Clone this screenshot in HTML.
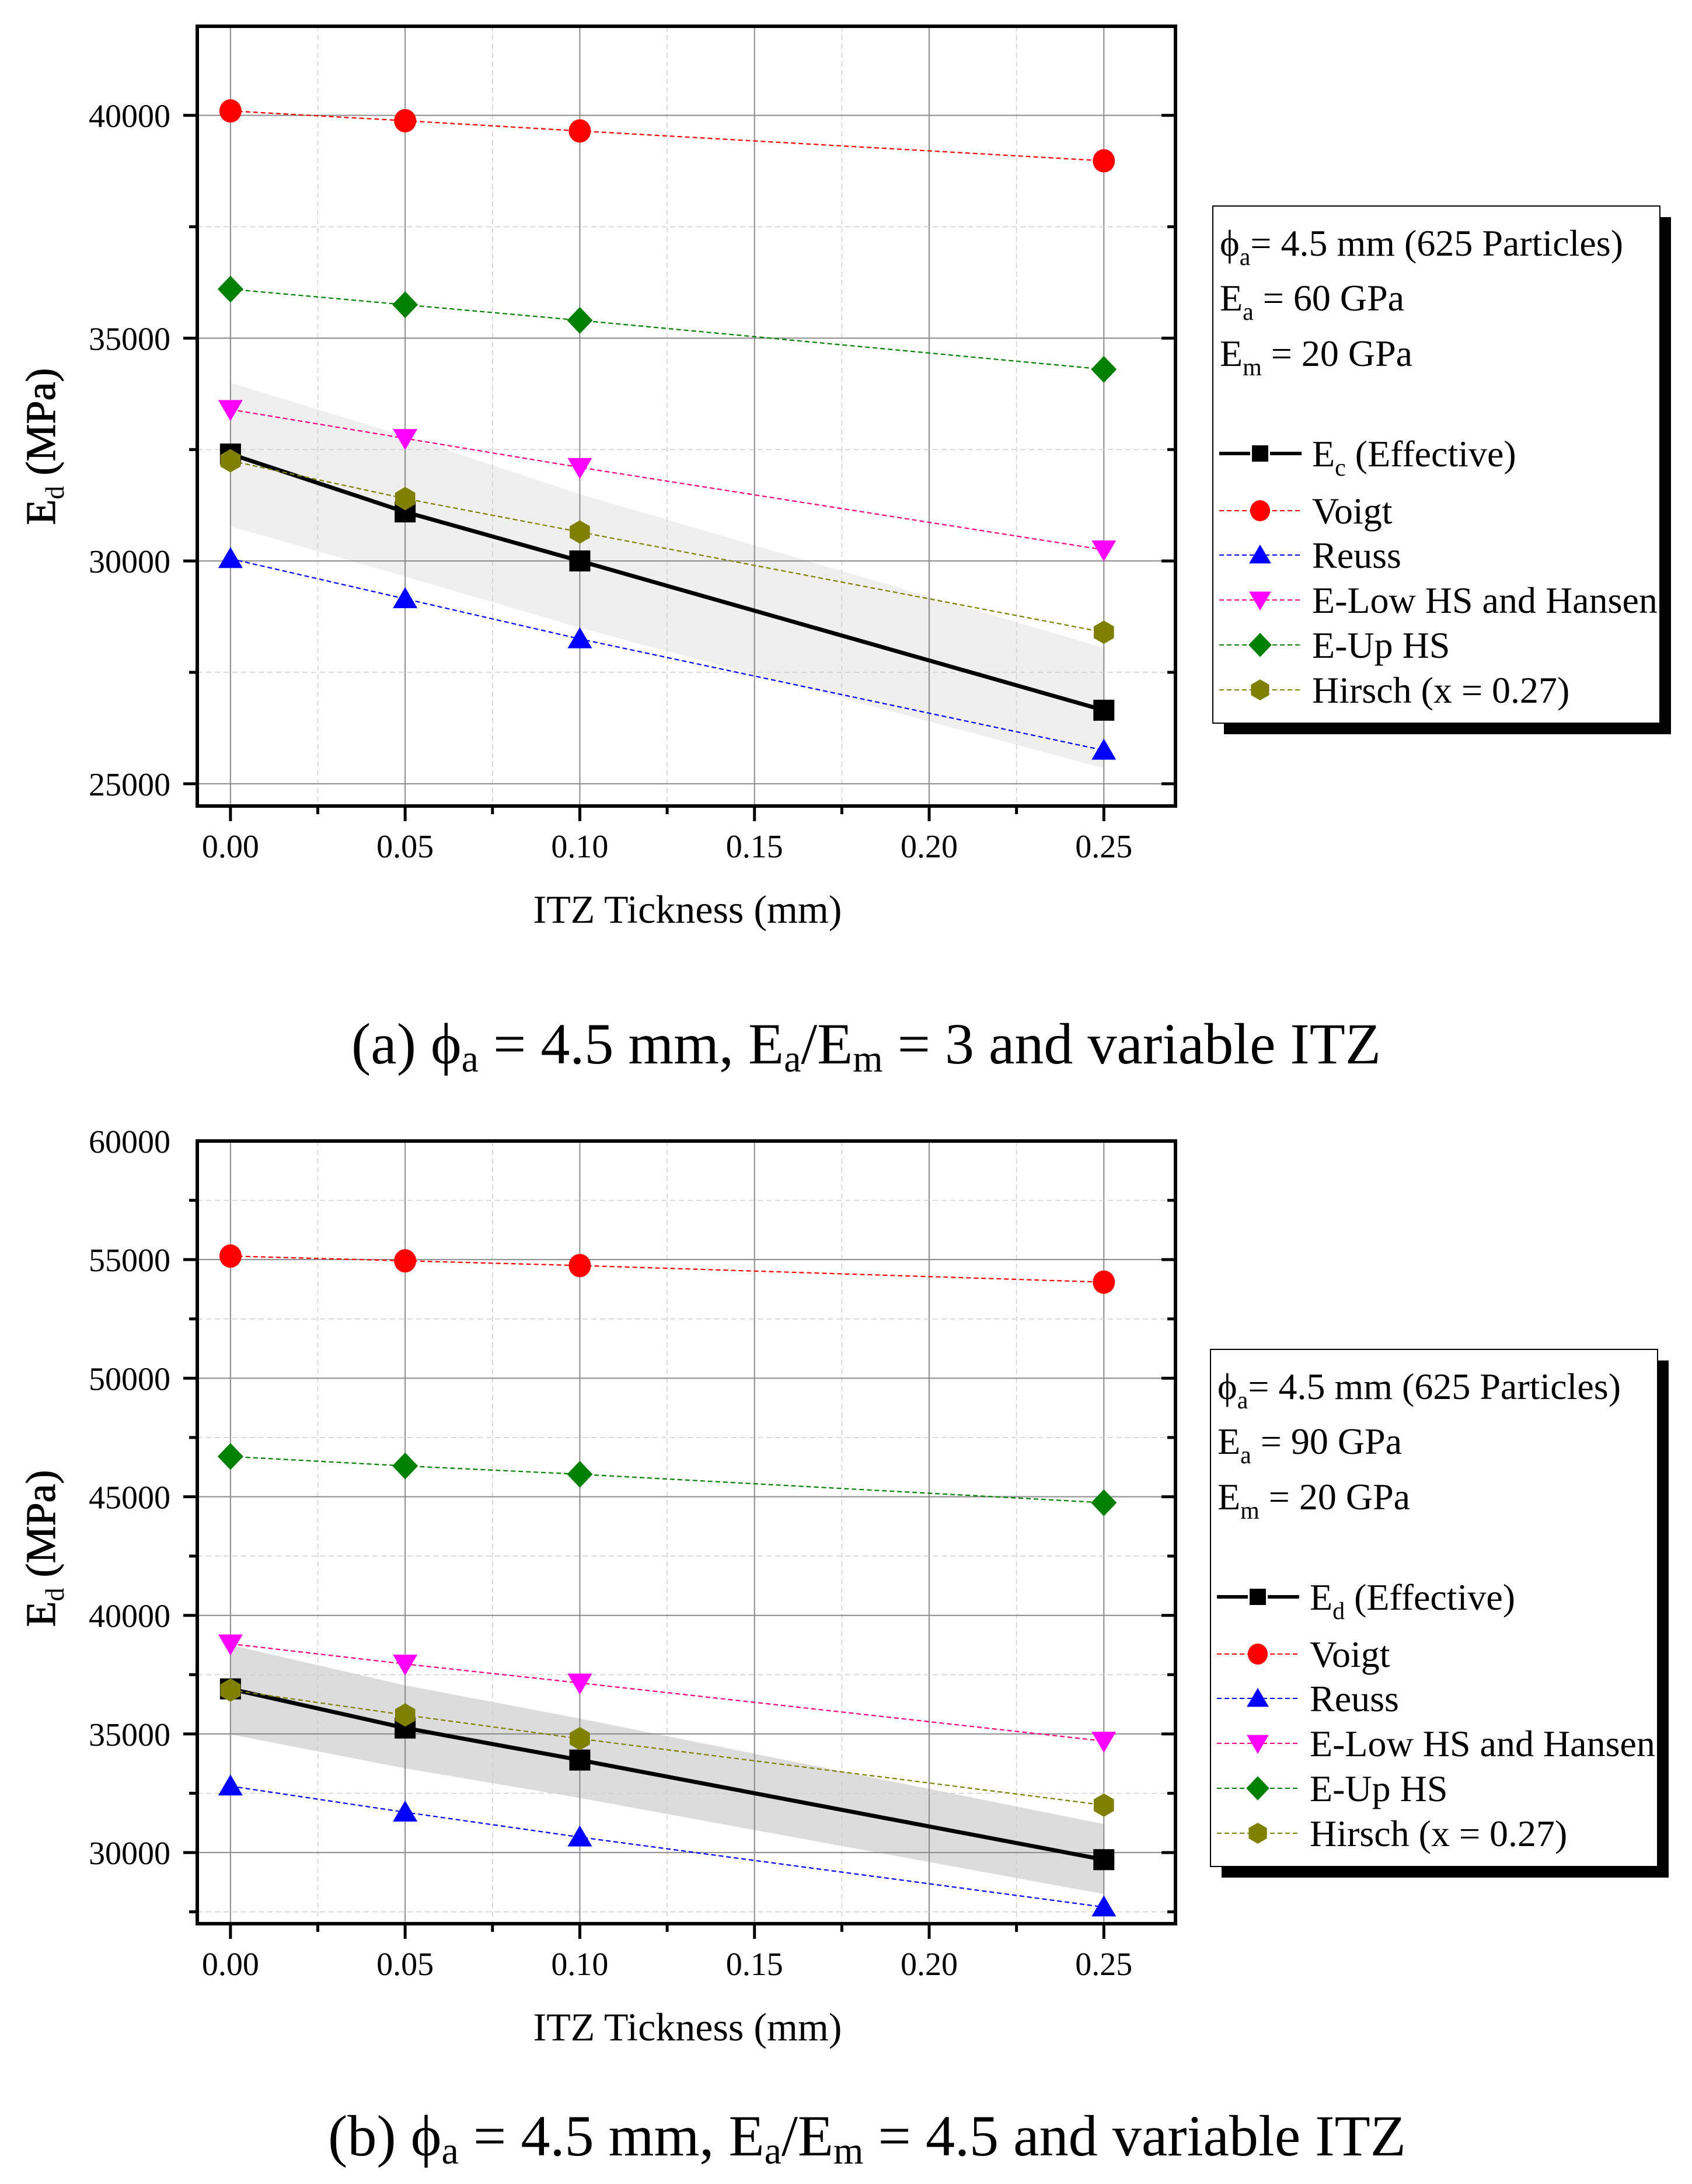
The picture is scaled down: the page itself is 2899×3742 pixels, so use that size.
<!DOCTYPE html>
<html><head><meta charset="utf-8"><style>
html,body{margin:0;padding:0;background:#fff;}
svg{display:block;font-family:"Liberation Serif",serif;}
</style></head><body>
<svg id="fig" xmlns="http://www.w3.org/2000/svg" width="2899" height="3742" viewBox="0 0 2899 3742">
<rect x="0" y="0" width="2899" height="3742" fill="#fff"/>
<g id="chartA"></g>
<g id="chartB"></g>
<text x="602" y="1822" font-size="100" textLength="1764" lengthAdjust="spacingAndGlyphs">(a) ϕ<tspan font-size="66" dy="14">a</tspan><tspan dy="-14"> = 4.5 mm, E</tspan><tspan font-size="66" dy="14">a</tspan><tspan dy="-14">/E</tspan><tspan font-size="66" dy="14">m</tspan><tspan dy="-14"> = 3 and variable ITZ</tspan></text>
<text x="562" y="3693" font-size="100" textLength="1847" lengthAdjust="spacingAndGlyphs">(b) ϕ<tspan font-size="66" dy="14">a</tspan><tspan dy="-14"> = 4.5 mm, E</tspan><tspan font-size="66" dy="14">a</tspan><tspan dy="-14">/E</tspan><tspan font-size="66" dy="14">m</tspan><tspan dy="-14"> = 4.5 and variable ITZ</tspan></text>
</svg>
<script>
// ---- data ----
const itz = [0, 0.05, 0.10, 0.25];
const xTicks = [0, 0.05, 0.10, 0.15, 0.20, 0.25];
const xTickLabels = ["0.00", "0.05", "0.10", "0.15", "0.20", "0.25"];

const aVoigt = [40100, 39880, 39650, 38980];
const aUpHS = [36100, 35750, 35400, 34300];
const aLowHS = [33400, 32750, 32100, 30250];
const aEff = [32400, 31100, 30000, 26650];
const aHirsch = [32250, 31400, 30650, 28400];
const aReuss = [30050, 29150, 28250, 25750];
const aBandUpper = [34000, 32800, 31500, 28050];
const aBandLower = [30780, 29650, 28500, 25350];
const aYTicks = [25000, 30000, 35000, 40000];

const bVoigt = [55150, 54950, 54750, 54050];
const bUpHS = [46700, 46300, 45950, 44750];
const bLowHS = [38800, 37950, 37150, 34700];
const bEff = [36900, 35250, 33900, 29700];
const bHirsch = [36850, 35800, 34800, 32000];
const bReuss = [32800, 31700, 30650, 27700];
const bBandUpper = [38750, 37050, 35650, 31200];
const bBandLower = [34980, 33550, 32300, 28250];
const bYTicks = [30000, 35000, 40000, 45000, 50000, 55000, 60000];

const NS = "http://www.w3.org/2000/svg";
function mk(parent, tag, attrs) {
  const e = document.createElementNS(NS, tag);
  for (const k in attrs) e.setAttribute(k, attrs[k]);
  parent.appendChild(e);
  return e;
}

function marker(g, type, cx, cy, color, s) {
  let e;
  const r = s / 2;
  if (type === "square") e = mk(g, "rect", {x: cx - r*0.9, y: cy - r*0.9, width: s*0.9, height: s*0.9, fill: color});
  else if (type === "circle") e = mk(g, "ellipse", {cx: cx, cy: cy, rx: r*0.95, ry: r, fill: color});
  else if (type === "up") e = mk(g, "polygon", {points: `${cx},${cy - r} ${cx + r*1.05},${cy + r*0.8} ${cx - r*1.05},${cy + r*0.8}`, fill: color});
  else if (type === "down") e = mk(g, "polygon", {points: `${cx},${cy + r} ${cx + r*1.05},${cy - r*0.8} ${cx - r*1.05},${cy - r*0.8}`, fill: color});
  else if (type === "diamond") e = mk(g, "polygon", {points: `${cx},${cy - r*1.15} ${cx + r*1.1},${cy} ${cx},${cy + r*1.15} ${cx - r*1.1},${cy}`, fill: color});
  else {
    const pts = [];
    for (let i = 0; i < 6; i++) { const a = Math.PI/6 + i*Math.PI/3; pts.push((cx + r*Math.cos(a)) + "," + (cy + r*Math.sin(a))); }
    e = mk(g, "polygon", {points: pts.join(" "), fill: color});
  }
  return e;
}

function drawChart(cfg) {
  const g = document.getElementById(cfg.id);
  const L = 338, R = 2014, T = cfg.top, B = cfg.bottom;
  const xMin = -0.0095, xMax = 0.2705;
  const X = v => L + (v - xMin) / (xMax - xMin) * (R - L);
  const Y = v => B - (v - cfg.yMin) / (cfg.yMax - cfg.yMin) * (B - T);

  const bandPts = [];
  itz.forEach((x, i) => bandPts.push(X(x) + "," + Y(cfg.upper[i])));
  for (let i = itz.length - 1; i >= 0; i--) bandPts.push(X(itz[i]) + "," + Y(cfg.lower[i]));
  const band = mk(g, "polygon", {points: bandPts.join(" "), fill: cfg.bandColor});
  
  

  const grid = mk(g, "g", {});
  
  
  for (let i = 0; i < xTicks.length; i++) {
    mk(grid, "line", {x1: X(xTicks[i]), x2: X(xTicks[i]), y1: T, y2: B, stroke: "#8a8a8a", "stroke-width": 2});
    const m = xTicks[i] + 0.025;
    if (m < xMax) mk(grid, "line", {x1: X(m), x2: X(m), y1: T, y2: B, stroke: "#cfcfcf", "stroke-width": 1.5, "stroke-dasharray": "9,6"});
  }
  for (let v = cfg.yTicks[0] - 5000; v <= cfg.yMax; v += 2500) {
    if (v <= cfg.yMin || v >= cfg.yMax) continue;
    const major = cfg.yTicks.indexOf(v) >= 0;
    mk(grid, "line", {x1: L, x2: R, y1: Y(v), y2: Y(v), stroke: major ? "#8a8a8a" : "#cfcfcf", "stroke-width": major ? 2 : 1.5, "stroke-dasharray": major ? "none" : "9,6"});
    mk(g, "line", {x1: L - (major ? 24 : 14), x2: L, y1: Y(v), y2: Y(v), stroke: "#000", "stroke-width": 5});
    mk(g, "line", {x1: R - (major ? 24 : 14), x2: R, y1: Y(v), y2: Y(v), stroke: "#000", "stroke-width": 5});
  }
  cfg.yTicks.forEach(v => {
    const t = mk(g, "text", {x: 292, y: Y(v) + 20, "font-size": 56, "text-anchor": "end"});
    
    
    t.textContent = String(v);
  });
  xTicks.forEach((v, i) => {
    mk(g, "line", {x1: X(v), x2: X(v), y1: B, y2: B + 26, stroke: "#000", "stroke-width": 5});
    const m = v + 0.025;
    if (m < xMax) mk(g, "line", {x1: X(m), x2: X(m), y1: B, y2: B + 14, stroke: "#000", "stroke-width": 5});
    const t = mk(g, "text", {x: X(v), y: B + 88, "font-size": 56, "text-anchor": "middle"});
    
    
    t.textContent = xTickLabels[i];
  });
  const fr = mk(g, "rect", {x: L, y: T, width: R - L, height: B - T, fill: "none", stroke: "#000", "stroke-width": 6});
  
  

  const xt = mk(g, "text", {x: 1178, y: B + 200, "font-size": 68, "text-anchor": "middle"});
  
  
  xt.textContent = "ITZ Tickness (mm)";
  const yt = mk(g, "text", {transform: `translate(94,${cfg.yTitleY}) rotate(-90)`, "font-size": 72, "text-anchor": "middle", stroke: "#000", "stroke-width": 1});
  
  
  yt.innerHTML = 'E<tspan font-size="46" stroke-width="0" dy="15">d</tspan><tspan dy="-15"> (MPa)</tspan>';

  cfg.series.forEach(s => {
    const sg = mk(g, "g", {});
    
    
    const pts = itz.map((x, i) => X(x) + "," + Y(s.values[i])).join(" ");
    mk(sg, "polyline", {points: pts, fill: "none", stroke: s.line, "stroke-width": s.solid ? 7 : 2.2, "stroke-dasharray": s.solid ? "none" : "8,5"});
    itz.forEach((x, i) => {
      const m = marker(sg, s.marker, X(x), Y(s.values[i]), s.color, 40);
      
      
    });
  });

  const LX = cfg.legX, LT = cfg.legY, W = 766, H = 886;
  const lg = mk(g, "g", {});
  
  
  mk(lg, "rect", {x: LX + 19, y: LT + 19, width: W, height: H, fill: "#000"});
  mk(lg, "rect", {x: LX, y: LT, width: W, height: H, fill: "#fff", stroke: "#000", "stroke-width": 2});
  const fs = 64, sub = 'font-size="42" dy="16"', back = 'dy="-16"';
  const hdr = [
    `ϕ<tspan ${sub}>a</tspan><tspan ${back}>= 4.5 mm (625 Particles)</tspan>`,
    `E<tspan ${sub}>a</tspan><tspan ${back}> = ${cfg.ea} GPa</tspan>`,
    `E<tspan ${sub}>m</tspan><tspan ${back}> = 20 GPa</tspan>`
  ];
  [85, 179, 274].forEach((dy, i) => {
    const t = mk(lg, "text", {x: LX + 12, y: LT + dy, "font-size": fs});
    
    
    t.innerHTML = hdr[i];
  });
  const rows = [446, 544, 620, 697, 774, 851];
  cfg.series.forEach((s, i) => {
    const eg = mk(lg, "g", {});
    
    
    const by = LT + rows[i], cy = by - 22;
    mk(eg, "line", {x1: LX + 11, x2: LX + 152, y1: cy, y2: cy, stroke: s.line, "stroke-width": s.solid ? 6 : 2, "stroke-dasharray": s.solid ? "none" : "8,5"});
    if (s.solid) mk(eg, "rect", {x: LX + 64, y: cy - 15, width: 34, height: 30, fill: "#fff"});
    marker(eg, s.marker, LX + 81, cy, s.color, s.solid ? 31 : 36);
    const t = mk(eg, "text", {x: LX + 170, y: by, "font-size": fs});
    t.innerHTML = s.label;
  });
}

const seriesDefs = (eff, voigt, reuss, low, up, hir, effLbl) => [
  {key: "effective", values: eff, color: "#000", line: "#000", solid: true, marker: "square", label: effLbl},
  {key: "voigt", values: voigt, color: "#ff0000", line: "#ff0000", marker: "circle", label: "Voigt"},
  {key: "reuss", values: reuss, color: "#0000ff", line: "#0000ff", marker: "up", label: "Reuss"},
  {key: "elow-hs", values: low, color: "#ff00ff", line: "#ff0080", marker: "down", label: "E-Low HS and Hansen"},
  {key: "eup-hs", values: up, color: "#008000", line: "#008000", marker: "diamond", label: "E-Up HS"},
  {key: "hirsch", values: hir, color: "#808000", line: "#808000", marker: "hex", label: "Hirsch (x = 0.27)"}
];

drawChart({id: "chartA", top: 45, bottom: 1381, yMin: 24500, yMax: 42000, yTicks: aYTicks,
  upper: aBandUpper, lower: aBandLower, bandColor: "#efefef", yTitleY: 765,
  legX: 2078, legY: 353, ea: 60,
  series: seriesDefs(aEff, aVoigt, aReuss, aLowHS, aUpHS, aHirsch, 'E<tspan font-size="42" dy="16">c</tspan><tspan dy="-16"> (Effective)</tspan>')});
drawChart({id: "chartB", top: 1955, bottom: 3296, yMin: 27000, yMax: 60000, yTicks: bYTicks,
  upper: bBandUpper, lower: bBandLower, bandColor: "#dcdcdc", yTitleY: 2653,
  legX: 2074, legY: 2312, ea: 90,
  series: seriesDefs(bEff, bVoigt, bReuss, bLowHS, bUpHS, bHirsch, 'E<tspan font-size="42" dy="16">d</tspan><tspan dy="-16"> (Effective)</tspan>')});
</script>
</body></html>
